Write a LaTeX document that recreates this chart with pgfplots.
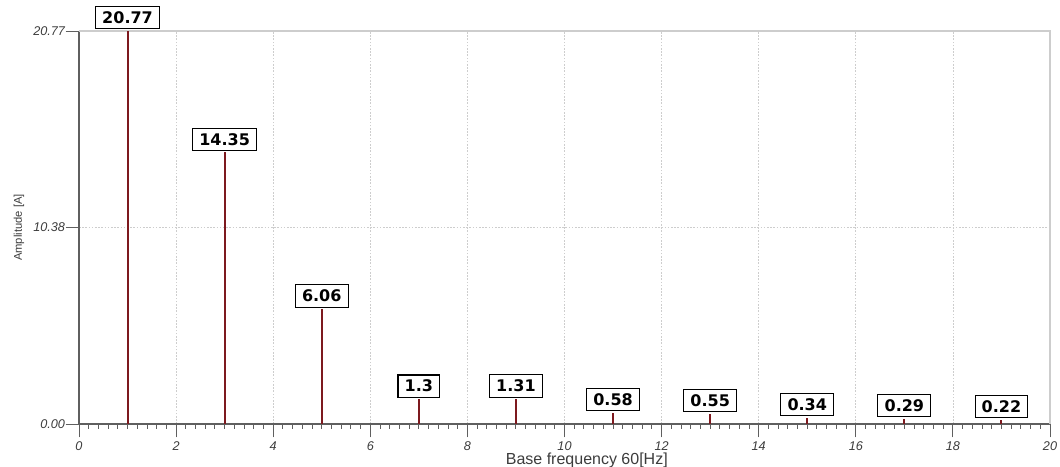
\documentclass[border=0pt]{standalone}
\usepackage{fontspec}
\setmainfont{Liberation Sans}
\newfontfamily\valfont{DejaVu Sans}
\usepackage{pgfplots}
\pgfplotsset{compat=1.18}
\definecolor{stem}{RGB}{125,25,30}
\definecolor{axisgray}{RGB}{95,95,95}
\definecolor{labgray}{RGB}{60,60,60}
\definecolor{gridgray}{RGB}{205,205,205}

% harmonic spectrum: harmonic order, amplitude, printed value
\pgfplotstableread{
h   amp    lab
1   20.77  20.77
3   14.35  14.35
5   6.06   6.06
7   1.30   1.3
9   1.31   1.31
11  0.58   0.58
13  0.55   0.55
15  0.34   0.34
17  0.29   0.29
19  0.22   0.22
}\harmonics

\begin{document}
\begin{tikzpicture}
\begin{axis}[
  scale only axis, width=728.25pt, height=294.75pt,
  xmin=0, xmax=20, ymin=0, ymax=20.77,
  clip=false,
  axis lines=left,
  axis line style={-, axisgray, line width=0.9pt},
  xtick={0,2,...,20}, minor x tick num=9,
  ytick={0,10.38,20.77}, yticklabels={0.00,10.38,20.77},
  minor y tick num=9,
  tick align=outside,
  major tick length=10pt, minor tick length=3.5pt,
  tick style={axisgray, line width=0.7pt},
  /pgf/number format/assume math mode=true,
  ticklabel style={font=\itshape\fontsize{9.5}{9.5}\selectfont, text=labgray},
  yticklabel style={xshift=3pt},
  grid=major,
  major grid style={gridgray, dash pattern=on 1.2pt off 1.2pt, line width=0.6pt},
  xlabel={Base frequency 60[Hz]},
  ylabel={Amplitude [A]},
  every axis x label/.style={at={(rel axis cs:0.523,0)}, anchor=center, yshift=-27.5pt, font=\fontsize{12}{12}\selectfont, text=labgray},
  every axis y label/.style={at={(rel axis cs:0,0.5)}, anchor=center, rotate=90, yshift=45pt, font=\fontsize{8.4}{8.4}\selectfont, text=labgray},
]
\draw[gridgray, line width=0.8pt] (rel axis cs:0,1) -- (rel axis cs:1,1) -- (rel axis cs:1,0);
\addplot[ycomb, stem, line width=1.5pt, mark=none,
  nodes near coords, point meta=explicit symbolic,
  every node near coord/.style={draw=black, fill=white, line width=0.8pt,
    text=black, font=\valfont\bfseries\fontsize{12}{12}\selectfont,
    anchor=south, inner xsep=5pt, inner ysep=3.8pt, yshift=1.2pt}]
  table[x=h, y=amp, meta=lab] {\harmonics};
\end{axis}
\pgfresetboundingbox
\path (-59.25pt,-32.25pt) rectangle (735.75pt,318pt);
\end{tikzpicture}
\end{document}
